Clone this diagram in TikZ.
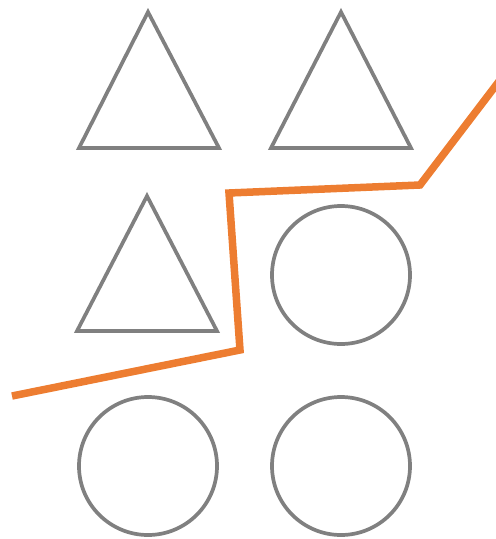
\documentclass[tikz,border=0pt]{standalone}
\definecolor{shapegray}{HTML}{808080}
\definecolor{lineorange}{HTML}{ED7D31}
\tikzset{
  shp/.style={draw=shapegray, line width=3.7pt, line join=miter},
  tri/.style={shp},
  cutline/.style={draw=lineorange, line width=7.5pt, line join=miter}
}
\begin{document}
\begin{tikzpicture}[x=1pt,y=-1pt]
\useasboundingbox (0,0) rectangle (496,539);
% triangles
\draw[tri] (148,12) -- (219,148) -- (79,148) -- cycle;
\draw[tri] (341,12) -- (411,148) -- (271,148) -- cycle;
\draw[tri] (147,196) -- (217,331) -- (77,331) -- cycle;
% circles
\draw[shp] (341,275) circle (69);
\draw[shp] (148,466) circle (69);
\draw[shp] (341,466) circle (69);
% orange line
\coordinate (p1) at (12,396);
\coordinate (p2) at (240,350);
\coordinate (p3) at (229,193);
\coordinate (p4) at (420,185);
\coordinate (p5) at (500,80);
\begin{scope}
\clip (0,0) rectangle (496,539);
\draw[cutline] (p1) -- (p2) -- (p3) -- (p4) -- (p5);
\end{scope}
\end{tikzpicture}
\end{document}
